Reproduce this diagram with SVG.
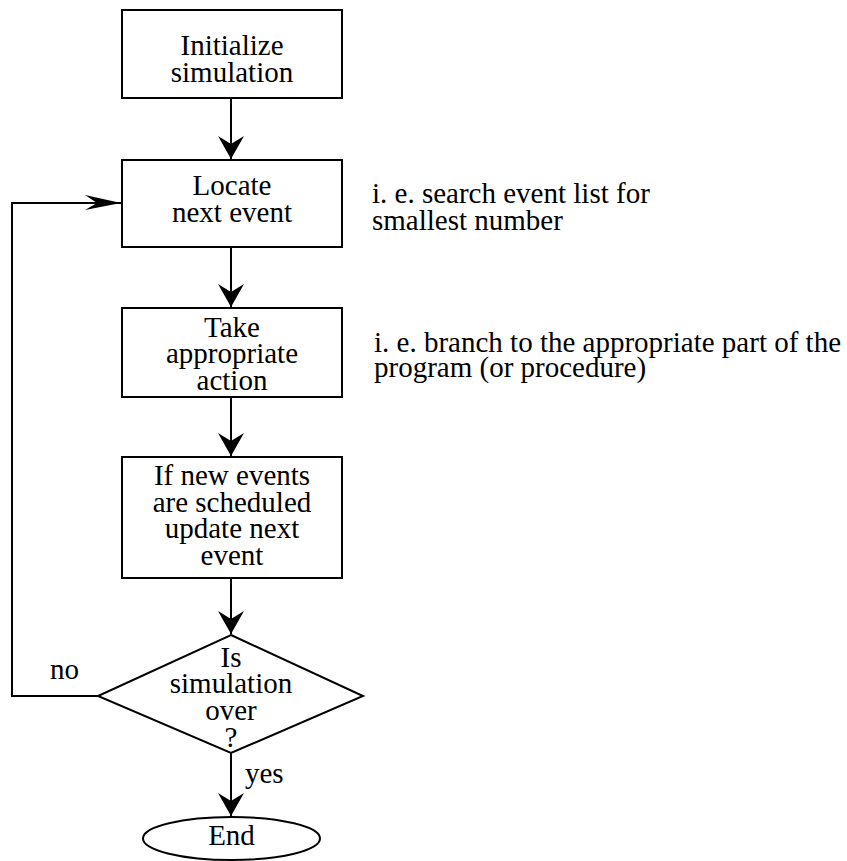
<svg xmlns="http://www.w3.org/2000/svg" width="847" height="861" viewBox="0 0 847 861">
  <style>
    .shape { fill: #fff; stroke: #000; stroke-width: 2; }
    .wire { fill: none; stroke: #000; stroke-width: 2; }
    text { font-family: 'Liberation Serif', 'DejaVu Serif', serif; font-size: 29px; fill: #000; }
    .c { text-anchor: middle; }
  </style>
  <defs>
    <!-- filled notched head for the vertical flow lines -->
    <marker id="down" markerUnits="userSpaceOnUse" markerWidth="28" markerHeight="30" viewBox="-26 -14 28 28" refX="0" refY="0" orient="auto">
      <path d="M0,0 L-23,-13 L-15,0 L-23,13 Z" fill="#000"/>
    </marker>
    <!-- slim head for the return loop -->
    <marker id="loop" markerUnits="userSpaceOnUse" markerWidth="40" markerHeight="16" viewBox="-38 -8 40 16" refX="0" refY="0" orient="auto">
      <path d="M0,0 L-36,-8 L-24,0 L-36,7 Z" fill="#000"/>
    </marker>
  </defs>

  <g id="connectors">
    <line class="wire" x1="231" y1="98" x2="231" y2="159" marker-end="url(#down)"/>
    <line class="wire" x1="231" y1="247" x2="231" y2="307" marker-end="url(#down)"/>
    <line class="wire" x1="231" y1="397" x2="231" y2="456" marker-end="url(#down)"/>
    <line class="wire" x1="231" y1="578" x2="231" y2="634" marker-end="url(#down)"/>
    <line class="wire" x1="231" y1="753" x2="231" y2="816" marker-end="url(#down)"/>
    <polyline class="wire" points="98,696 12,696 12,203 121,203" marker-end="url(#loop)"/>
    <text x="50" y="679">no</text>
    <text x="245" y="783">yes</text>
  </g>

  <g id="init">
    <rect class="shape" x="122" y="10" width="220" height="88"/>
    <text class="c" x="232" y="55">Initialize</text>
    <text class="c" x="232" y="82">simulation</text>
  </g>

  <g id="locate">
    <rect class="shape" x="122" y="160" width="220" height="87"/>
    <text class="c" x="232" y="195">Locate</text>
    <text class="c" x="232" y="222">next event</text>
  </g>

  <g id="action">
    <rect class="shape" x="122" y="308" width="220" height="89"/>
    <text class="c" x="232" y="337">Take</text>
    <text class="c" x="232" y="363">appropriate</text>
    <text class="c" x="232" y="390">action</text>
  </g>

  <g id="update">
    <rect class="shape" x="122" y="457" width="220" height="121"/>
    <text class="c" x="232" y="485">If new events</text>
    <text class="c" x="232" y="512">are scheduled</text>
    <text class="c" x="232" y="538">update next</text>
    <text class="c" x="232" y="565">event</text>
  </g>

  <g id="decision">
    <polygon class="shape" points="231,635 363,696 231,753 98,696"/>
    <text class="c" x="231" y="667">Is</text>
    <text class="c" x="231" y="693">simulation</text>
    <text class="c" x="231" y="720">over</text>
    <text class="c" x="231" y="747">?</text>
  </g>

  <g id="end">
    <ellipse class="shape" cx="231.5" cy="838.5" rx="88.5" ry="21.5"/>
    <text class="c" x="231.5" y="845">End</text>
  </g>

  <g id="notes">
    <text x="372" y="203">i. e. search event list for</text>
    <text x="372" y="230">smallest number</text>
    <text x="374" y="352">i. e. branch to the appropriate part of the</text>
    <text x="374" y="377">program (or procedure)</text>
  </g>
</svg>
